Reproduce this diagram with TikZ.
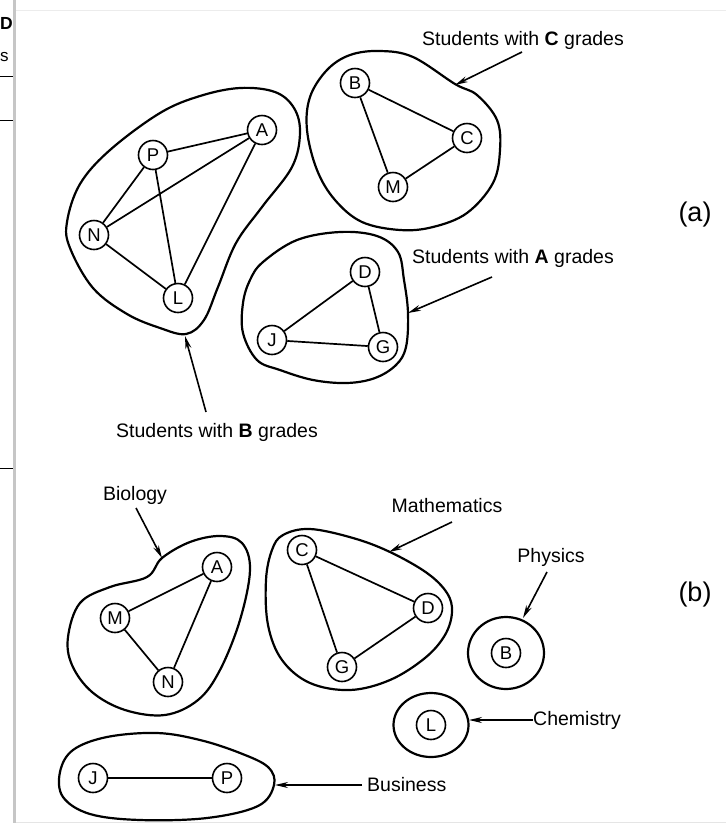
\documentclass[tikz,border=0pt]{standalone}
\usepackage{fontspec}
\setmainfont{Liberation Sans}
\usetikzlibrary{arrows.meta}
\begin{document}
\begin{tikzpicture}[x=1pt,y=-1pt,
  vert/.style={circle,draw,line width=1.6pt,minimum size=29pt,inner sep=0pt,font=\fontsize{18.5}{18.5}\selectfont},
  blob/.style={line width=2.2pt},
  edge/.style={line width=1.7pt},
  lbl/.style={font=\fontsize{19.5}{21}\selectfont,inner sep=0pt},
  partlbl/.style={font=\fontsize{27}{29}\selectfont,inner sep=0pt},
  ptr/.style={line width=1.6pt,-{Stealth[length=13pt,width=6pt]}},
]
\fill[white] (0,0) rectangle (726,823);
\useasboundingbox (0,0) rectangle (726,823);

% left edge remnants of a cropped page
\node[anchor=west,inner sep=0pt,font=\fontsize{17.5}{18}\selectfont\bfseries] (remD) at (0,23) {D};
\node[anchor=west,inner sep=0pt,font=\fontsize{17}{18}\selectfont] (remS) at (0,57) {s};
\fill[gray!45] (13,0) rectangle (16,823);
\draw[line width=0.8pt] (0,76) -- (13,76) (0,120) -- (13,120) (0,468) -- (13,468);
\draw[gray!15,line width=1pt] (16,10) -- (726,10);
\draw[gray!20,line width=1pt] (16,822) -- (726,822);

% ================= (a) =================
% B grades
\draw[blob] plot[smooth cycle,tension=0.6] coordinates {(160,113) (200,96) (240,88) (275,92) (294,108) (300,133) (292,167) (262,207) (236,243) (218,287) (204,320) (186,334) (160,328) (127,314) (93,288) (70,248) (67,222) (80,184) (110,150)};
\node[vert] (aP) at (153,155) {P};
\node[vert] (aA) at (262,130) {A};
\node[vert] (aN) at (94,235) {N};
\node[vert] (aL) at (178,298) {L};
\draw[edge] (aP) -- (aA) (aP) -- (aN) (aP) -- (aL) (aN) -- (aA) (aN) -- (aL) (aL) -- (aA);

% C grades
\draw[blob] plot[smooth cycle,tension=0.6] coordinates {(307,130) (310,97) (327,70) (350,55) (380,51) (413,57) (455,84) (477,95) (497,120) (500,150) (493,183) (467,213) (433,227) (400,230) (362,222) (335,200) (317,170)};
\node[vert] (aB) at (355,83) {B};
\node[vert] (aC) at (467,138) {C};
\node[vert] (aM) at (393,187) {M};
\draw[edge] (aB) -- (aC) (aB) -- (aM) (aM) -- (aC);

% A grades
\draw[blob] plot[smooth cycle,tension=0.6] coordinates {(297,240) (340,232) (377,236) (398,252) (404,280) (408,313) (406,347) (396,365) (375,378) (347,383) (313,380) (280,370) (257,360) (243,333) (243,303) (250,280) (263,262)};
\node[vert] (aD) at (365,272) {D};
\node[vert] (aJ) at (272,340) {J};
\node[vert] (aG) at (383,347) {G};
\draw[edge] (aD) -- (aJ) (aD) -- (aG) (aJ) -- (aG);

% labels (a)
\node[lbl] (lC) at (523,40) {Students with \textbf{C} grades};
\node[lbl] (lA) at (513,258) {Students with \textbf{A} grades};
\node[lbl] (lB) at (217,432) {Students with \textbf{B} grades};
\node[partlbl] (pa) at (695,215) {(a)};

\coordinate (sC) at (522,52);  \coordinate (tC) at (455,85);
\coordinate (sA) at (492,277); \coordinate (tA) at (408,313);
\coordinate (sB) at (206,412); \coordinate (tB) at (185,336);
\draw[ptr] (sC) -- (tC);
\draw[ptr] (sA) -- (tA);
\draw[ptr] (sB) -- (tB);

% ================= (b) =================
% Biology
\draw[blob] plot[smooth cycle,tension=0.6] coordinates {(162,558) (190,542) (220,536) (242,543) (250,570) (240,620) (220,670) (198,700) (165,715) (125,710) (92,692) (72,665) (68,637) (80,603) (110,587) (147,577)};
\node[vert] (bA) at (217,567) {A};
\node[vert] (bM) at (115,618) {M};
\node[vert] (bN) at (168,682) {N};
\draw[edge] (bM) -- (bA) (bM) -- (bN) (bN) -- (bA);

% Mathematics
\draw[blob] plot[smooth cycle,tension=0.6] coordinates {(283,535) (310,529) (353,538) (390,552) (427,573) (447,593) (452,612) (445,635) (425,658) (390,680) (350,690) (310,683) (282,660) (268,625) (266,580) (272,550)};
\node[vert] (bC) at (302,550) {C};
\node[vert] (bD) at (428,608) {D};
\node[vert] (bG) at (342,667) {G};
\draw[edge] (bC) -- (bD) (bC) -- (bG) (bG) -- (bD);

% Physics
\draw[blob] (506,653) ellipse [x radius=38,y radius=36];
\node[vert] (bB) at (506,653) {B};

% Chemistry
\draw[blob] (431,725) ellipse [x radius=37.5,y radius=32];
\node[vert] (bL) at (431,725) {L};

% Business
\draw[blob] plot[smooth cycle,tension=0.6] coordinates {(157,733) (200,740) (240,753) (268,767) (274,785) (258,806) (207,818) (140,820) (90,814) (63,797) (60,772) (73,750) (107,737)};
\node[vert] (bJ) at (93,778) {J};
\node[vert] (bP) at (227,778) {P};
\draw[edge] (bJ) -- (bP);

% labels (b)
\node[lbl] (lBio) at (135,495) {Biology};
\node[lbl] (lMat) at (447,506) {Mathematics};
\node[lbl] (lPhy) at (551,557) {Physics};
\node[lbl,anchor=west] (lChe) at (533,720) {Chemistry};
\node[lbl,anchor=west] (lBus) at (367,785) {Business};
\node[partlbl] (pb) at (695,595) {(b)};

\coordinate (sBio) at (136,508); \coordinate (tBio) at (162,558);
\coordinate (sMat) at (452,522); \coordinate (tMat) at (389,552);
\coordinate (sPhy) at (547,572); \coordinate (tPhy) at (523,618);
\coordinate (tChe) at (469,720);
\coordinate (tBus) at (275,785);
\draw[ptr] (sBio) -- (tBio);
\draw[ptr] (sMat) -- (tMat);
\draw[ptr] (sPhy) -- (tPhy);
\draw[ptr] (lChe.west) -- (tChe);
\draw[ptr] ([xshift=-5pt]lBus.west) -- (tBus);
\end{tikzpicture}
\end{document}
